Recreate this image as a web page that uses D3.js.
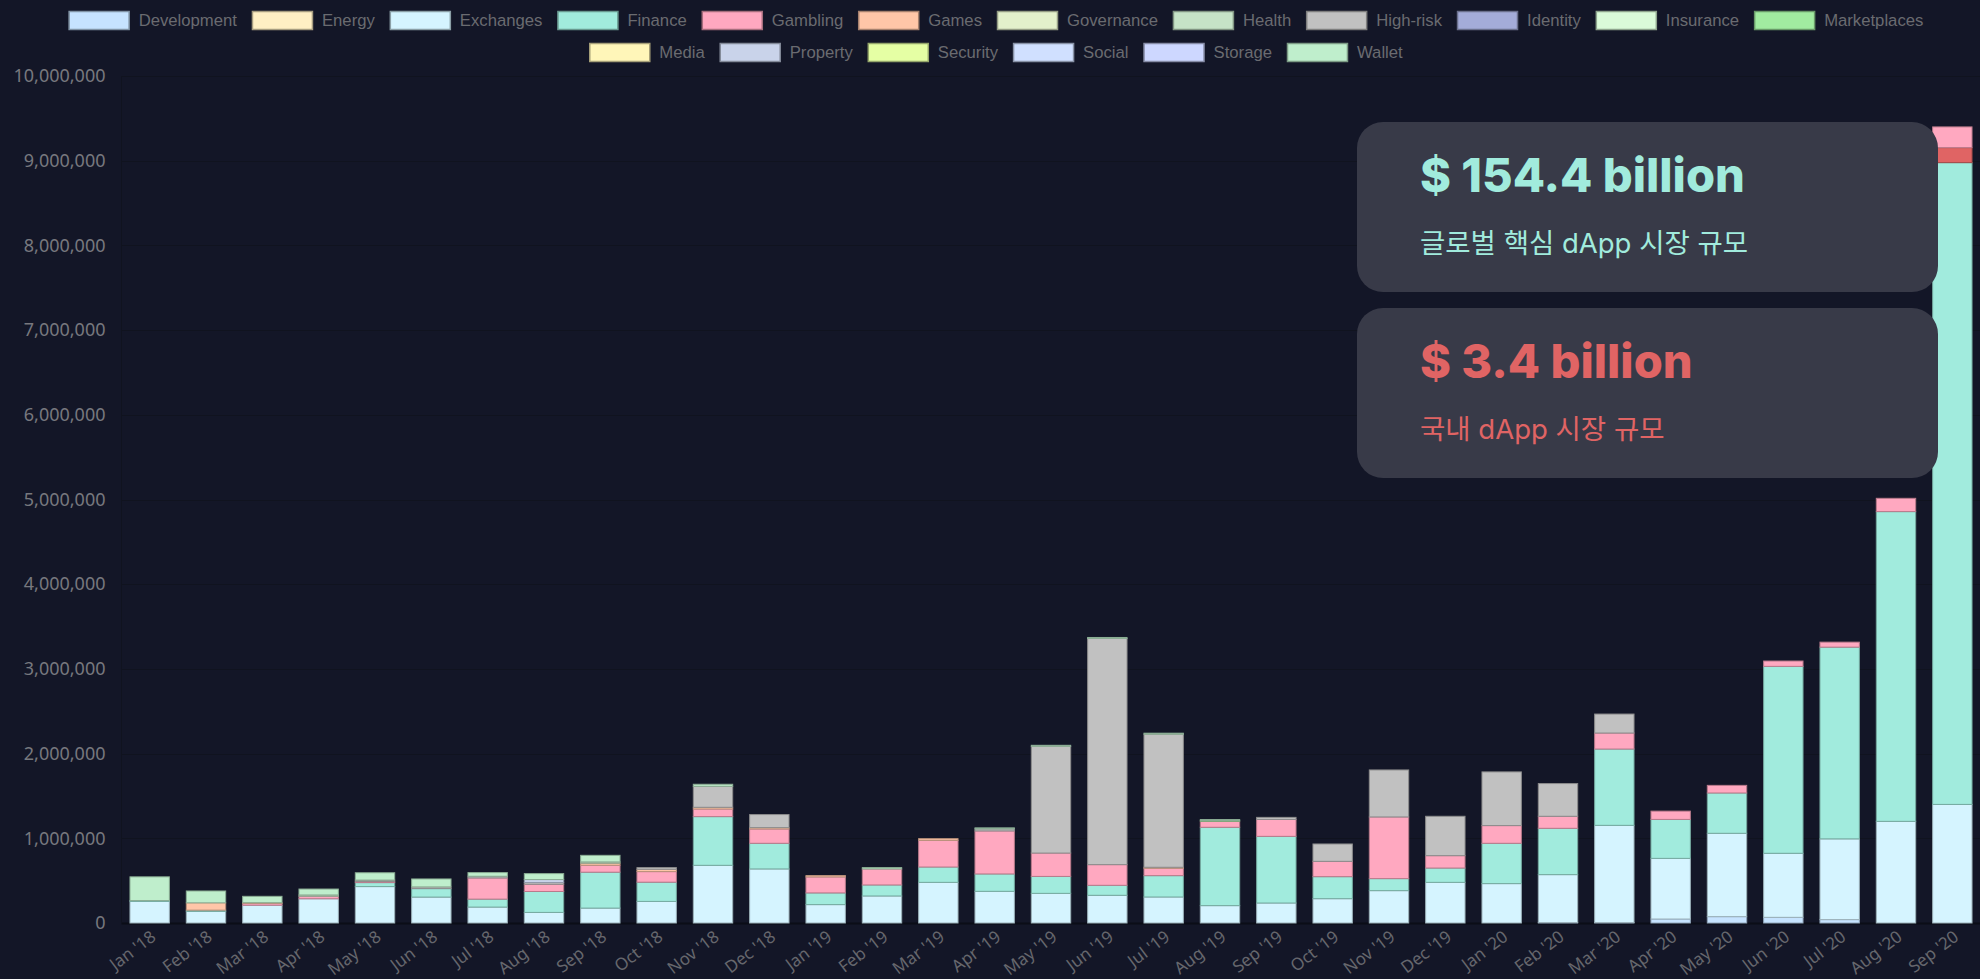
<!DOCTYPE html>
<html>
<head>
<meta charset="utf-8">
<script src="https://cdn.jsdelivr.net/npm/d3@7"></script>
<style>
  body { margin: 0; background: #131627; }
  svg { display: block; }
</style>
</head>
<body>
<script>
// months on the x axis
const months = ["Jan '18","Feb '18","Mar '18","Apr '18","May '18","Jun '18","Jul '18","Aug '18","Sep '18","Oct '18","Nov '18","Dec '18",
                "Jan '19","Feb '19","Mar '19","Apr '19","May '19","Jun '19","Jul '19","Aug '19","Sep '19","Oct '19","Nov '19","Dec '19",
                "Jan '20","Feb '20","Mar '20","Apr '20","May '20","Jun '20","Jul '20","Aug '20","Sep '20"];

// series values (USD) per month
const development  = [0,0,0,0,0,0,0,0,0,0,0,0, 0,0,0,0,0,0,0,0,0,0,0,0, 0,5000,5000,47000,75000,67000,40000,0,0];
const energy       = [0,0,0,0,0,0,0,0,0,0,0,0, 0,0,0,0,0,0,0,0,0,0,0,0, 0,0,0,0,0,0,0,0,0];
const exchanges    = [255000,137000,210000,286000,430000,306000,188000,125000,176000,255000,681000,638000,
                      217000,319000,480000,374000,350000,327000,307000,205000,236000,287000,382000,480000,
                      465000,566000,1148000,716000,984000,756000,953000,1200000,1400000];
const finance      = [10000,15000,0,0,47000,100000,94000,247000,424000,227000,575000,303000,
                      138000,130000,181000,205000,200000,118000,252000,925000,787000,260000,142000,169000,
                      476000,547000,901000,460000,476000,2207000,2264000,3657000,7577000];
const domestic     = [0,0,0,0,0,0,0,0,0,0,0,0, 0,0,0,0,0,0,0,0,0,0,0,0, 0,0,0,0,0,0,0,0,177000];
const gambling     = [0,0,20000,30000,15000,0,250000,86000,82000,125000,90000,169000,
                      189000,189000,315000,508000,276000,244000,87000,71000,200000,181000,728000,146000,
                      209000,142000,189000,98000,90000,63000,59000,157000,245000];
const games        = [0,86000,10000,0,0,0,0,0,24000,27000,20000,16000, 16000,0,20000,0,0,0,12000,0,0,0,0,0, 0,0,0,0,0,0,0,0,0];
const governance   = [0,0,0,0,0,0,0,0,0,0,0,0, 0,0,0,0,0,0,0,0,0,0,0,0, 0,0,0,0,0,0,0,0,0];
const health       = [0,0,0,15000,0,0,0,0,15000,0,0,0, 0,0,0,0,0,0,0,0,0,0,0,0, 0,0,0,0,0,0,0,0,0];
const highRisk     = [0,0,0,0,15000,20000,20000,20000,0,20000,248000,154000,
                      0,0,0,24000,1260000,2670000,1571000,0,24000,205000,555000,465000,
                      634000,386000,224000,0,0,0,0,0,0];
const identity     = [0,0,0,0,0,0,0,0,0,0,0,0, 0,0,0,0,0,0,0,0,0,0,0,0, 0,0,0,0,0,0,0,0,0];
const insurance    = [0,0,0,0,0,0,0,0,0,0,0,0, 0,0,0,0,0,0,0,0,0,0,0,0, 0,0,0,0,0,0,0,0,0];
const marketplaces = [0,0,0,0,0,0,0,0,0,0,0,0, 0,0,0,0,0,0,0,10000,0,0,0,0, 0,0,0,0,0,0,0,0,0];
const media        = [0,0,0,0,0,0,0,0,0,0,0,0, 0,0,0,0,0,0,0,0,0,0,0,0, 0,0,0,0,0,0,0,0,0];
const property     = [0,0,0,0,0,0,0,35000,0,0,0,0, 0,0,0,0,0,0,0,0,0,0,0,0, 0,0,0,0,0,0,0,0,0];
const security     = [0,0,0,0,0,0,0,0,0,0,0,0, 0,0,0,0,0,0,0,0,0,0,0,0, 0,0,0,0,0,0,0,0,0];
const social       = [0,0,0,0,0,0,0,0,0,0,0,0, 0,0,0,0,0,0,0,0,0,0,0,0, 0,0,0,0,0,0,0,0,0];
const storage      = [0,0,0,0,0,0,0,0,0,0,0,0, 0,0,0,0,0,0,0,0,0,0,0,0, 0,0,0,0,0,0,0,0,0];
const wallet       = [280000,140000,75000,70000,86000,94000,43000,70000,78000,0,24000,0,
                      0,16000,0,12000,12000,12000,12000,10000,0,0,0,0, 0,0,0,0,0,0,0,0,0];

// y ticks
const yTicks = [0,1000000,2000000,3000000,4000000,5000000,6000000,7000000,8000000,9000000,10000000];

// series list (stack order, bottom first)
const series = [
  {key: "Development",  values: development,  color: "#c6e3ff", legend: true},
  {key: "Energy",       values: energy,       color: "#ffefc4", legend: true},
  {key: "Exchanges",    values: exchanges,    color: "#d5f4ff", legend: true},
  {key: "Finance",      values: finance,      color: "#a1ebdd", legend: true},
  {key: "Domestic",     values: domestic,     color: "#e06464", legend: false},
  {key: "Gambling",     values: gambling,     color: "#ffa8c0", legend: true},
  {key: "Games",        values: games,        color: "#ffc6a8", legend: true},
  {key: "Governance",   values: governance,   color: "#e3f1cb", legend: true},
  {key: "Health",       values: health,       color: "#c6e3c7", legend: true},
  {key: "High-risk",    values: highRisk,     color: "#c1c1c1", legend: true},
  {key: "Identity",     values: identity,     color: "#a4acd9", legend: true},
  {key: "Insurance",    values: insurance,    color: "#dafbd9", legend: true},
  {key: "Marketplaces", values: marketplaces, color: "#a1eba0", legend: true},
  {key: "Media",        values: media,        color: "#fff6b9", legend: true},
  {key: "Property",     values: property,     color: "#c9d3ea", legend: true},
  {key: "Security",     values: security,     color: "#e5ffa4", legend: true},
  {key: "Social",       values: social,       color: "#d0e0ff", legend: true},
  {key: "Storage",      values: storage,      color: "#cdd7ff", legend: true},
  {key: "Wallet",       values: wallet,       color: "#bfeecc", legend: true}
];

// common dimensions
const W = 1980, H = 979;
const plot = {left: 121.5, right: 1980.5, top: 76, bottom: 923};

const svg = d3.select("body").append("svg")
    .attr("width", W)
    .attr("height", H);

// table for the stack
const table = months.map((m, i) => {
  const row = {month: m};
  series.forEach(s => row[s.key] = s.values[i]);
  return row;
});
const stacked = d3.stack().keys(series.map(s => s.key))(table);

const x = d3.scaleBand()
    .domain(months)
    .range([plot.left, plot.right])
    .paddingInner(0.283)
    .paddingOuter(0.1415);

const y = d3.scaleLinear()
    .domain([0, 10000000])
    .range([plot.bottom, plot.top]);

// grid
svg.append("g")
  .selectAll("line")
  .data(yTicks)
  .join("line")
    .attr("x1", plot.left)
    .attr("x2", W)
    .attr("y1", d => Math.round(y(d)) + 0.5)
    .attr("y2", d => Math.round(y(d)) + 0.5)
    .attr("stroke", d => d === 0 ? "#0b0d17" : "#10131f")
    .attr("stroke-width", d => d === 0 ? 2 : 1);
svg.append("line")
    .attr("x1", plot.left).attr("x2", plot.left)
    .attr("y1", plot.top).attr("y2", plot.bottom)
    .attr("stroke", "#10131f");

// y axis
const yAxis = svg.append("g")
    .attr("transform", `translate(${plot.left},0)`)
    .call(d3.axisLeft(y).tickValues(yTicks).tickFormat(d3.format(",")).tickSize(0).tickPadding(16));
yAxis.select(".domain").remove();
yAxis.selectAll("text")
    .attr("fill", "#77787e")
    .attr("font-family", "'Noto Sans', sans-serif")
    .attr("font-size", "18px");

// x axis
const xAxis = svg.append("g")
    .attr("transform", `translate(0,${plot.bottom})`)
    .call(d3.axisBottom(x).tickSize(0));
xAxis.select(".domain").remove();
xAxis.selectAll("text")
    .attr("fill", "#66676d")
    .attr("font-family", "'Noto Sans', sans-serif")
    .attr("font-size", "17px")
    .attr("text-anchor", "end")
    .attr("dy", "0.35em")
    .attr("transform", "translate(2,9) rotate(-37)");

// bars
const layers = svg.append("g")
  .selectAll("g")
  .data(stacked)
  .join("g")
    .attr("fill", (d, i) => series[i].color)
    .attr("stroke", (d, i) => d3.color(series[i].color).darker(0.9))
    .attr("stroke-width", 1);

layers.selectAll("rect")
  .data(d => d.filter(p => p[1] - p[0] > 0))
  .join("rect")
    .attr("x", d => x(d.data.month) + 0.5)
    .attr("y", d => y(d[1]))
    .attr("width", x.bandwidth() - 1)
    .attr("height", d => y(d[0]) - y(d[1]));

// legend
const legendItems = series.filter(s => s.legend);
const legendRows = [legendItems.slice(0, 12), legendItems.slice(12)];
const legend = svg.append("g");
legendRows.forEach((row, r) => {
  const g = legend.append("g");
  const cy = 20 + r * 32;
  let cx = 0;
  row.forEach(s => {
    g.append("rect")
        .attr("x", cx + 0.5).attr("y", cy - 9 + 0.5)
        .attr("width", 60).attr("height", 18)
        .attr("fill", s.color)
        .attr("stroke", d3.color(s.color).darker(1.2))
        .attr("stroke-width", 1.5);
    const t = g.append("text")
        .attr("x", cx + 70).attr("y", cy)
        .attr("dy", "0.35em")
        .attr("fill", "#6a6b70")
        .attr("font-family", "'Liberation Sans', Arial, sans-serif")
        .attr("font-size", "16.7px")
        .text(s.key);
    cx += 70 + t.node().getComputedTextLength() + 15;
  });
  const total = cx - 15;
  g.attr("transform", `translate(${996 - total / 2},0)`);
});

// info boxes
const boxes = [
  {title: "$ 154.4 billion", sub: "글로벌 핵심 dApp 시장 규모", color: "#a1ebdd", y: 122},
  {title: "$ 3.4 billion",   sub: "국내 dApp 시장 규모",        color: "#e06464", y: 308}
];
const info = svg.append("g")
  .selectAll("g")
  .data(boxes)
  .join("g")
    .attr("transform", d => `translate(1357,${d.y})`);
info.append("rect")
    .attr("width", 581).attr("height", 170)
    .attr("rx", 26)
    .attr("fill", "#383a48");
info.append("text")
    .attr("x", 63).attr("y", 70)
    .attr("fill", d => d.color)
    .attr("font-family", "Inter, 'Noto Sans', sans-serif")
    .attr("font-weight", 800)
    .attr("font-size", "47px")
    .text(d => d.title);
info.append("text")
    .attr("x", 63).attr("y", 131)
    .attr("fill", d => d.color)
    .attr("font-family", "Inter, 'Noto Sans CJK KR', sans-serif")
    .attr("font-size", "27.5px")
    .text(d => d.sub);
</script>
</body>
</html>
